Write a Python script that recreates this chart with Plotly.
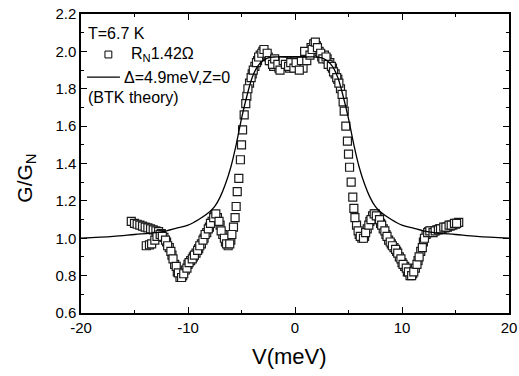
import plotly.graph_objects as go

# sweep 1 of measured data
v1 = [-15.3, -15.0, -14.75, -14.5, -14.25, -14.0, -13.75, -13.5, -13.25, -13.0, -12.75, -12.5,
      -12.25, -12.0, -11.75, -11.5, -11.25, -11.0, -10.75, -10.5, -10.25, -10.0, -9.75, -9.5,
      -9.25, -9.0, -8.75, -8.5, -8.25, -8.0, -7.75, -7.5, -7.25, -7.0, -6.75, -6.5, -6.25, -6.0,
      -5.75, -5.5, -5.25, -5.0, -4.75, -4.5, -4.25, -4.0, -3.75, -3.5, -3.25, -3.0, -2.75, -2.5,
      -2.25, -2.0, -1.75, -1.5, -1.25, -1.0, -0.75, -0.5, -0.25, 0.0, 0.25, 0.5, 0.75, 1.0, 1.25,
      1.5, 1.75, 2.0, 2.25, 2.5, 2.75, 3.0, 3.25, 3.5, 3.75, 4.0, 4.25, 4.5, 4.75, 5.0, 5.25, 5.5,
      5.75, 6.0, 6.25, 6.5, 6.75, 7.0, 7.25, 7.5, 7.75, 8.0, 8.25, 8.5, 8.75, 9.0, 9.25, 9.5, 9.75,
      10.0, 10.25, 10.5, 10.75, 11.0, 11.25, 11.5, 11.75, 12.0, 12.25, 12.5, 12.75, 13.0, 13.25,
      13.5, 13.75, 14.0, 14.25, 14.5, 14.75, 15.0, 15.3]
g1 = [1.09, 1.08, 1.075, 1.07, 1.065, 1.06, 1.055, 1.05, 1.045, 1.04, 1.035, 1.025,
      1.005, 0.98, 0.95, 0.91, 0.86, 0.82, 0.79, 0.80, 0.83, 0.86, 0.88, 0.90,
      0.92, 0.945, 0.97, 1.0, 1.03, 1.06, 1.09, 1.12, 1.11, 1.07, 1.02, 0.98, 0.96, 0.99,
      1.06, 1.17, 1.32, 1.50, 1.66, 1.76, 1.83, 1.88, 1.92, 1.95, 1.98, 2.0, 1.99, 1.97,
      1.95, 1.92, 1.94, 1.91, 1.94, 1.92, 1.95, 1.91, 1.93, 1.95, 1.92, 1.94, 1.91, 1.96, 1.99,
      2.02, 2.04, 2.03, 2.0, 1.97, 1.98, 1.96, 1.94, 1.91, 1.88, 1.85, 1.80, 1.73, 1.60, 1.45, 1.30, 1.16,
      1.07, 1.02, 1.0, 1.01, 1.05, 1.09, 1.12, 1.13, 1.11, 1.08, 1.05, 1.02, 0.99, 0.97, 0.95, 0.93, 0.90,
      0.87, 0.85, 0.82, 0.80, 0.81, 0.84, 0.88, 0.93, 0.98, 1.02, 1.035, 1.04, 1.04, 1.045,
      1.05, 1.05, 1.055, 1.06, 1.065, 1.07, 1.075, 1.085]

# sweep 2 of measured data
v2 = [-13.9, -13.6, -13.4, -13.1, -12.9, -12.6, -12.4, -12.1, -11.9, -11.6, -11.4, -11.1,
      -10.9, -10.6, -10.4, -10.1, -9.9, -9.6, -9.4, -9.1, -8.9, -8.6, -8.4, -8.1, -7.9, -7.6,
      -7.4, -7.1, -6.9, -6.6, -6.4, -6.1, -5.9, -5.6, -5.4, -5.1, -4.9, -4.6, -4.4, -4.1, -3.9,
      -3.6, -3.4, -3.1, -2.9, -2.6, -2.4, -2.1, -1.9, -1.6, -1.4, -1.1, -0.9, -0.6, -0.4, -0.1,
      0.1, 0.4, 0.6, 0.9, 1.1, 1.4, 1.6, 1.9, 2.1, 2.4, 2.6, 2.9, 3.1, 3.4, 3.6, 3.9, 4.1, 4.4,
      4.6, 4.9, 5.1, 5.4, 5.6, 5.9, 6.1, 6.4, 6.6, 6.9, 7.1, 7.4, 7.6, 7.9, 8.1, 8.4, 8.6, 8.9,
      9.1, 9.4, 9.6, 9.9, 10.1, 10.4, 10.6, 10.9, 11.1, 11.4, 11.6, 11.9, 12.1, 12.4, 12.6, 12.9,
      13.1, 13.4, 13.6, 13.9, 14.1, 14.4, 14.6, 14.9, 15.1]
g2 = [0.96, 0.965, 0.97, 0.99, 1.01, 1.02, 1.01, 0.99, 0.96, 0.93, 0.89, 0.85,
      0.815, 0.79, 0.81, 0.84, 0.87, 0.89, 0.91, 0.935, 0.96, 0.99, 1.02, 1.05, 1.08, 1.11,
      1.13, 1.09, 1.04, 1.0, 0.97, 0.97, 1.02, 1.11, 1.25, 1.42, 1.58, 1.72, 1.80, 1.86, 1.90,
      1.94, 1.97, 1.99, 2.01, 1.99, 1.95, 1.93, 1.96, 1.93, 1.90, 1.95, 1.93, 1.92, 1.94, 1.91,
      1.94, 1.90, 1.95, 2.0, 1.95, 1.98, 2.01, 2.05, 2.02, 1.99, 1.96, 1.97, 1.93, 1.92, 1.89, 1.86, 1.83, 1.77,
      1.68, 1.52, 1.38, 1.22, 1.11, 1.04, 1.01, 1.0, 1.03, 1.07, 1.10, 1.13, 1.12, 1.10, 1.07, 1.04, 1.01, 0.98,
      0.96, 0.94, 0.92, 0.89, 0.86, 0.84, 0.82, 0.80, 0.82, 0.86, 0.90, 0.95, 1.0, 1.03, 1.04, 1.03,
      1.04, 1.045, 1.05, 1.06, 1.06, 1.07, 1.07, 1.08, 1.08]

# BTK theory curve
vt = [-20, -17, -15, -13, -12, -11, -10, -9, -8, -7.5, -7, -6.5, -6, -5.5, -5, -4.5, -4, -3.5,
      -3, -2.5, -2, -1, 0, 1, 2, 2.5, 3, 3.5, 4, 4.5, 5, 5.5, 6, 6.5, 7, 7.5, 8, 9, 10, 11, 12,
      13, 15, 17, 20]
gt = [1.0, 1.01, 1.02, 1.03, 1.04, 1.055, 1.07, 1.10, 1.14, 1.17, 1.22, 1.29, 1.38, 1.50, 1.64,
      1.76, 1.86, 1.92, 1.95, 1.965, 1.97, 1.97, 1.97, 1.97, 1.97, 1.965, 1.95, 1.92, 1.86, 1.76,
      1.64, 1.50, 1.38, 1.29, 1.22, 1.17, 1.14, 1.10, 1.07, 1.055, 1.04, 1.03, 1.02, 1.01, 1.0]

# tick labels
x_ticks = [-20, -10, 0, 10, 20]
x_labels = ["-20", "-10", "0", "10", "20"]

FONT = "Liberation Sans, Arial, sans-serif"
mk = dict(symbol="square", size=8, color="white", line=dict(width=1.2, color="#1a1a1a"))

fig = go.Figure()
fig.add_trace(go.Scatter(x=v1, y=g1, mode="markers", marker=mk, hoverinfo="skip"))
fig.add_trace(go.Scatter(x=v2, y=g2, mode="markers", marker=mk, hoverinfo="skip"))
fig.add_trace(go.Scatter(x=vt, y=gt, mode="lines", hoverinfo="skip",
                         line=dict(color="black", width=1.3, shape="spline")))

axis_common = dict(showline=True, linecolor="black", linewidth=1.5, mirror="allticks",
                   ticks="inside", ticklen=6, tickwidth=1.2, tickcolor="black",
                   showgrid=False, zeroline=False, automargin=False,
                   tickfont=dict(family=FONT, size=15, color="black"))
fig.update_xaxes(range=[-20, 20], tickmode="array", tickvals=x_ticks, ticktext=x_labels,
                 minor=dict(dtick=5, tick0=-20, ticks="inside", ticklen=3, tickcolor="black"),
                 **axis_common)
fig.update_yaxes(range=[0.6, 2.2], dtick=0.2, tick0=0.6, tickformat=".1f",
                 minor=dict(dtick=0.1, ticks="inside", ticklen=3, tickcolor="black"),
                 **axis_common)

lf = dict(family=FONT, size=16, color="black")
fig.update_layout(
    width=519, height=376,
    margin=dict(l=81, r=10, t=14, b=63, autoexpand=False),
    paper_bgcolor="white", plot_bgcolor="white",
    showlegend=False,
    annotations=[
        dict(text="T=6.7 K", x=0.012, y=0.936, xref="paper", yref="paper",
             xanchor="left", yanchor="middle", showarrow=False, font=lf),
        dict(text="R<sub>N</sub>1.42Ω", x=0.112, y=0.863, xref="paper", yref="paper",
             xanchor="left", yanchor="middle", showarrow=False, font=lf),
        dict(text="Δ=4.9meV,Z=0", x=0.095, y=0.789, xref="paper", yref="paper",
             xanchor="left", yanchor="middle", showarrow=False, font=lf),
        dict(text="(BTK theory)", x=0.012, y=0.722, xref="paper", yref="paper",
             xanchor="left", yanchor="middle", showarrow=False, font=lf),
        dict(text="G/G<sub>N</sub>", x=-0.128, y=0.45, xref="paper", yref="paper",
             xanchor="center", yanchor="middle", textangle=-90, showarrow=False,
             font=dict(family=FONT, size=21, color="black")),
        dict(text="V(meV)", x=0.488, y=-0.147, xref="paper", yref="paper",
             xanchor="center", yanchor="middle", showarrow=False,
             font=dict(family=FONT, size=22, color="black")),
    ],
    shapes=[
        dict(type="line", xref="paper", yref="paper", x0=0.014, x1=0.091, y0=0.789, y1=0.789,
             line=dict(color="black", width=1.3)),
        dict(type="rect", xref="paper", yref="paper", x0=0.056, x1=0.072, y0=0.853, y1=0.876,
             line=dict(color="black", width=1), fillcolor="white"),
    ],
)
fig.write_html("out.html", config={"displayModeBar": False},
               post_script="document.body.style.margin='0';document.body.style.padding='0';"
                           "document.body.style.overflow='hidden';")
